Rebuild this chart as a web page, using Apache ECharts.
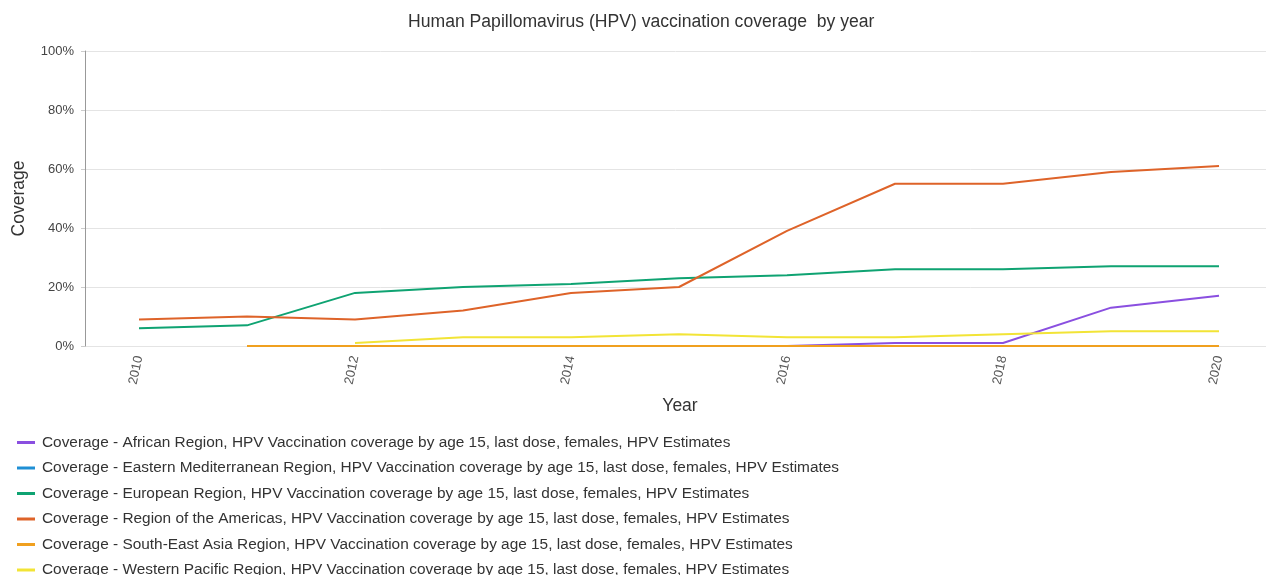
<!DOCTYPE html>
<html>
<head>
<meta charset="utf-8">
<script src="https://cdn.jsdelivr.net/npm/echarts@6/dist/echarts.min.js"></script>
<style>
html,body{margin:0;padding:0;background:#fff;}
#c{width:1266px;height:575px;}
</style>
</head>
<body>
<div id="c"></div>
<script>
var years = [2010, 2011, 2012, 2013, 2014, 2015, 2016, 2017, 2018, 2019, 2020];
var tickYears = [2010, 2012, 2014, 2016, 2018, 2020];
var african      = [null, null, null, null, null, null, 0, 1, 1, 13, 17];
var eastMed      = [null, null, null, null, null, null, null, null, null, null, null];
var european     = [6, 7, 18, 20, 21, 23, 24, 26, 26, 27, 27];
var americas     = [9, 10, 9, 12, 18, 20, 39, 55, 55, 59, 61];
var seAsia       = [null, 0, 0, 0, 0, 0, 0, 0, 0, 0, 0];
var westPacific  = [null, null, 1, 3, 3, 4, 3, 3, 4, 5, 5];
var seriesNames = [
  'Coverage - African Region, HPV Vaccination coverage by age 15, last dose, females, HPV Estimates',
  'Coverage - Eastern Mediterranean Region, HPV Vaccination coverage by age 15, last dose, females, HPV Estimates',
  'Coverage - European Region, HPV Vaccination coverage by age 15, last dose, females, HPV Estimates',
  'Coverage - Region of the Americas, HPV Vaccination coverage by age 15, last dose, females, HPV Estimates',
  'Coverage - South-East Asia Region, HPV Vaccination coverage by age 15, last dose, females, HPV Estimates',
  'Coverage - Western Pacific Region, HPV Vaccination coverage by age 15, last dose, females, HPV Estimates'
];
var seriesData = [african, eastMed, european, americas, seAsia, westPacific];
var colors = ['#8a4fe0', '#1f8fd4', '#0fa372', '#de6329', '#f0a01f', '#f2e436'];

function pairs(arr) {
  return years.map(function (y, i) { return [y, arr[i]]; });
}

var FONT = '"Liberation Sans", Arial, sans-serif';
var chart = echarts.init(document.getElementById('c'), null, {renderer: 'canvas'});
chart.setOption({
  animation: false,
  color: colors,
  textStyle: {fontFamily: FONT},
  title: {
    text: 'Human Papillomavirus (HPV) vaccination coverage  by year',
    left: 403, top: 8,
    textStyle: {fontFamily: FONT, fontSize: 17.6, fontWeight: 'normal', color: '#333'}
  },
  grid: {left: 85, top: 51, bottom: 229, right: 0, containLabel: false},
  legend: {
    orient: 'vertical', left: 17, top: 434.5, padding: 0, height: 300,
    icon: 'rect', itemWidth: 18, itemHeight: 3, itemGap: 9.5,
    textStyle: {fontFamily: FONT, fontSize: 15.4, color: '#333', lineHeight: 16, padding: [0, 0, 0, 2]},
    data: seriesNames
  },
  xAxis: {
    type: 'value', min: 2009.5, max: 2020.435,
    name: 'Year', nameLocation: 'middle', nameGap: 51,
    nameTextStyle: {fontFamily: FONT, fontSize: 17.5, color: '#333', padding: [0, 0, 0, 9]},
    axisLine: {show: false}, axisTick: {show: false},
    splitLine: {show: false},
    axisLabel: {customValues: tickYears, showMinLabel: true, showMaxLabel: true,
      rotate: 78, fontSize: 13, color: '#555', margin: 10, fontFamily: FONT,
      formatter: function (v) { return String(v); }}
  },
  yAxis: {
    type: 'value', min: 0, max: 100, interval: 20,
    name: 'Coverage', nameLocation: 'middle', nameGap: 57,
    nameTextStyle: {fontFamily: FONT, fontSize: 17.5, color: '#333'},
    axisLine: {show: true, lineStyle: {color: '#999'}},
    axisTick: {show: true, length: 4, lineStyle: {color: '#ccc'}},
    axisLabel: {formatter: '{value}%', fontSize: 13, color: '#444', margin: 11, fontFamily: FONT},
    splitLine: {lineStyle: {color: '#e4e4e4'}}
  },
  series: seriesNames.map(function (n, i) {
    return {
      name: n, type: 'line', data: pairs(seriesData[i]),
      showSymbol: false, symbol: 'none', connectNulls: false,
      lineStyle: {width: 2, color: colors[i]},
      itemStyle: {color: colors[i]}
    };
  })
});
</script>
</body>
</html>
